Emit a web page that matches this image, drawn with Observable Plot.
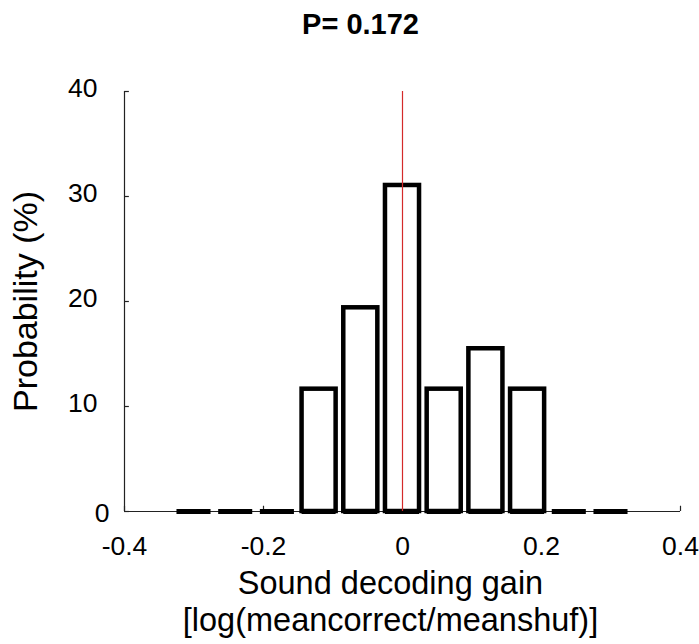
<!DOCTYPE html>
<html><head><meta charset="utf-8">
<script src="https://cdn.jsdelivr.net/npm/d3@7"></script>
<script src="https://cdn.jsdelivr.net/npm/@observablehq/plot@0.6"></script>
<style>body{margin:0;background:#fff;}</style>
</head><body><div id="chart"></div>
<script>
const binCenters = [-0.30, -0.24, -0.18, -0.12, -0.06, 0, 0.06, 0.12, 0.18, 0.24, 0.30];
const probabilities = [0, 0, 0, 11.65, 19.4, 31.05, 11.65, 15.5, 11.65, 0, 0];
const xTicks = [-0.4, -0.2, 0, 0.2, 0.4];
const yTicks = [0, 10, 20, 30, 40];
const title = "P= 0.172";
const xLabelLines = ["Sound decoding gain", "[log(meancorrect/meanshuf)]"];
const yLabel = "Probability (%)";
const refLine = [0];

const halfWidth = 0.0245;
const bars = binCenters.map((c, i) => ({x1: c - halfWidth, x2: c + halfWidth, y: probabilities[i]}));
const font = "'Liberation Sans', Arial, Helvetica, sans-serif";

const chart = Plot.plot({
  width: 699,
  height: 644,
  marginLeft: 124,
  marginRight: 19,
  marginTop: 91,
  marginBottom: 133,
  style: {fontFamily: font, background: "#fff", color: "#000"},
  x: {domain: [-0.4, 0.4], axis: null},
  y: {domain: [0, 40], axis: null},
  marks: [
    // axis lines
    Plot.ruleY([0], {stroke: "#222", strokeWidth: 1.2}),
    Plot.ruleX([-0.4], {stroke: "#222", strokeWidth: 1.2}),
    // inward ticks
    Plot.ruleX(xTicks, {x: d => d, y1: 0, y2: 0.5, stroke: "#222", strokeWidth: 1.2}),
    Plot.ruleY(yTicks, {y: d => d, x1: -0.4, x2: -0.393, stroke: "#222", strokeWidth: 1.2}),
    // bars
    Plot.rect(bars.filter(d => d.y > 0), {x1: "x1", x2: "x2", y1: 0, y2: "y", fill: "#fff", stroke: "#000", strokeWidth: 4.5}),
    Plot.ruleY(bars, {x1: "x1", x2: "x2", y: 0, stroke: "#000", strokeWidth: 5}),
    // reference line
    Plot.ruleX(refLine, {x: d => d, y1: 0, y2: 40, stroke: "#d42a2a", strokeWidth: 1.2}),
    // tick labels
    Plot.text(xTicks, {x: d => d, frameAnchor: "bottom", dy: 35, lineAnchor: "middle", text: d => String(d), fontSize: 26.5, fill: "#000"}),
    Plot.text(yTicks.filter(d => d !== 0), {y: d => d, frameAnchor: "left", dx: -27, dy: -2.5, textAnchor: "end", lineAnchor: "middle", text: d => String(d), fontSize: 26.5, fill: "#000"}),
    Plot.text(yTicks.filter(d => d === 0), {y: d => d, frameAnchor: "left", dx: -15, dy: 2.5, textAnchor: "end", lineAnchor: "middle", text: d => String(d), fontSize: 26.5, fill: "#000"}),
    // axis labels
    Plot.text([yLabel], {frameAnchor: "left", dx: -98, rotate: -90, textAnchor: "middle", text: d => d, fontSize: 34, lineAnchor: "middle", fill: "#000"}),
    Plot.text([xLabelLines.join("\n")], {frameAnchor: "bottom", dx: -12, dy: 56, textAnchor: "middle", lineAnchor: "top", lineHeight: 1.14, text: d => d, fontSize: 32.5, fill: "#000"}),
    // title
    Plot.text([title], {frameAnchor: "top", dx: -42, dy: -67, textAnchor: "middle", lineAnchor: "middle", text: d => d, fontSize: 29, fontWeight: "bold", fill: "#000"})
  ]
});
document.getElementById("chart").appendChild(chart);
</script>
</body></html>
